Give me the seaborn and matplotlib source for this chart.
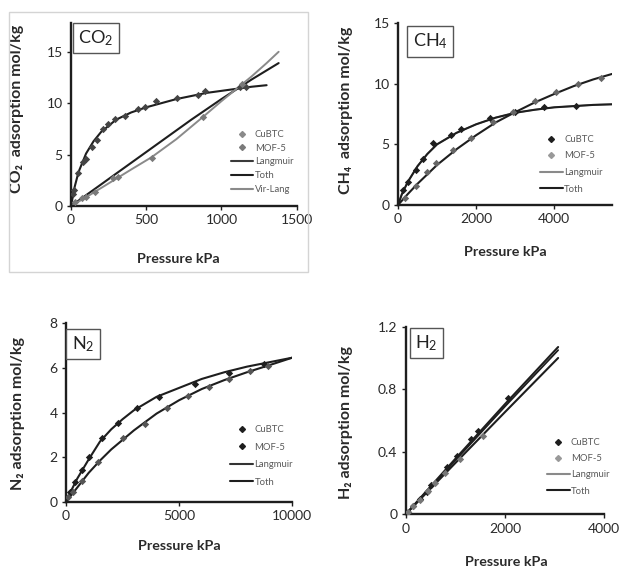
import numpy as np
import pandas as pd
import seaborn as sns
import matplotlib
matplotlib.use("Agg")
import matplotlib.pyplot as plt
from matplotlib.lines import Line2D
from matplotlib.patches import Rectangle

# %%
# Dados (pressão kPa, adsorção mol/kg)

# CO2
co2_cubtc_p = [10, 20, 49, 78, 100, 137, 170, 215, 248, 292, 359, 448, 492, 565, 702, 847, 891, 1123, 1160]
co2_cubtc_q = [1.2, 1.6, 3.2, 4.3, 4.6, 5.7, 6.4, 7.5, 8.0, 8.5, 8.8, 9.4, 9.6, 10.2, 10.5, 10.8, 11.2, 11.6, 11.6]
co2_mof5_p = [27, 71, 100, 160, 281, 315, 536, 880, 1135]
co2_mof5_q = [0.4, 0.74, 0.9, 1.4, 2.7, 2.85, 4.7, 8.7, 11.9]
co2_lang_p = [0, 25, 50, 100, 150, 200, 300, 400, 500, 600, 700, 800, 900, 1000, 1100, 1200, 1300]
co2_lang_q = [0, 1.9, 3.3, 5.1, 6.3, 7.2, 8.4, 9.1, 9.6, 10.0, 10.4, 10.7, 11.0, 11.2, 11.4, 11.6, 11.75]
co2_toth_p = [0, 200, 400, 600, 800, 1000, 1200, 1380]
co2_toth_q = [0, 2.1, 4.2, 6.3, 8.4, 10.4, 12.3, 13.9]
co2_vir_p = [0, 100, 200, 300, 400, 536, 700, 880, 1000, 1100, 1200, 1300, 1380]
co2_vir_q = [0, 0.85, 1.75, 2.65, 3.55, 4.75, 6.5, 8.7, 10.2, 11.4, 12.6, 13.9, 15.0]

# CH4
ch4_cubtc_p = [128, 256, 450, 650, 898, 1368, 1625, 2351, 2993, 3736, 4557]
ch4_cubtc_q = [1.2, 1.9, 2.9, 3.8, 5.15, 5.8, 6.3, 7.2, 7.7, 8.05, 8.2]
ch4_mof5_p = [171, 470, 750, 983, 1400, 1881, 2437, 2950, 3505, 4036, 4600, 5190]
ch4_mof5_q = [0.6, 1.6, 2.7, 3.5, 4.5, 5.5, 6.8, 7.7, 8.6, 9.3, 9.95, 10.45]
ch4_fit_cubtc_p = [0, 100, 250, 500, 750, 1000, 1500, 2000, 2500, 3000, 3500, 4000, 4500, 5000, 5480]
ch4_fit_cubtc_q = [0, 0.9, 1.9, 3.2, 4.2, 5.0, 5.95, 6.65, 7.2, 7.6, 7.85, 8.05, 8.15, 8.25, 8.3]
ch4_fit_mof5_p = [0, 250, 500, 1000, 1500, 2000, 2500, 3000, 3500, 4000, 4500, 5000, 5480]
ch4_fit_mof5_q = [0, 0.9, 1.75, 3.3, 4.6, 5.75, 6.8, 7.65, 8.45, 9.15, 9.8, 10.35, 10.8]

# N2
n2_cubtc_p = [177, 400, 692, 1030, 1575, 2311, 3121, 4107, 5697, 7198, 8758]
n2_cubtc_q = [0.44, 0.9, 1.44, 2.0, 2.84, 3.51, 4.22, 4.7, 5.29, 5.78, 6.15]
n2_mof5_p = [103, 324, 700, 1428, 2532, 3489, 4445, 5402, 6315, 7198, 8125, 8935]
n2_mof5_q = [0.22, 0.44, 0.95, 1.78, 2.85, 3.5, 4.22, 4.74, 5.14, 5.48, 5.85, 6.07]
n2_fit_cubtc_p = [0, 250, 500, 1000, 1500, 2000, 2500, 3000, 4000, 5000, 6000, 7000, 8000, 9000, 10000]
n2_fit_cubtc_q = [0, 0.55, 1.05, 1.9, 2.7, 3.25, 3.7, 4.1, 4.7, 5.1, 5.5, 5.8, 6.05, 6.25, 6.45]
n2_fit_mof5_p = [0, 500, 1000, 1500, 2000, 3000, 4000, 5000, 6000, 7000, 8000, 9000, 10000]
n2_fit_mof5_q = [0, 0.65, 1.3, 1.85, 2.35, 3.2, 3.95, 4.55, 5.05, 5.45, 5.8, 6.12, 6.45]

# H2
h2_cubtc_p = [40, 150, 288, 423, 510, 825, 1027, 1315, 1450, 2053]
h2_cubtc_q = [0.012, 0.05, 0.1, 0.145, 0.19, 0.305, 0.373, 0.48, 0.535, 0.742]
h2_mof5_p = [40, 150, 288, 450, 600, 792, 1094, 1563]
h2_mof5_q = [0.013, 0.05, 0.092, 0.15, 0.2, 0.262, 0.354, 0.501]
h2_toth_cubtc_p = [0, 1000, 2000, 3070]
h2_toth_cubtc_q = [0, 0.355, 0.705, 1.07]
h2_lang_cubtc_p = [0, 1000, 2000, 3070]
h2_lang_cubtc_q = [0, 0.345, 0.69, 1.05]
h2_fit_mof5_p = [0, 1000, 2000, 3070]
h2_fit_mof5_q = [0, 0.328, 0.654, 1.0]

# %%
sns.set_theme(style="white")
plt.rcParams['font.family'] = ['Lato', 'DejaVu Sans']
plt.rcParams['mathtext.fontset'] = 'custom'
plt.rcParams['mathtext.rm'] = 'Lato'
plt.rcParams['mathtext.default'] = 'regular'

fig = plt.figure(figsize=(6.21, 5.69), dpi=100)
W, H = 621, 569


def eixo(esq, dir_, base, topo):
    # posição em pixels -> fração da figura
    return fig.add_axes([esq / W, 1 - base / H, (dir_ - esq) / W, (base - topo) / H])


ax_co2 = eixo(71, 296.7, 206, 23)
ax_ch4 = eixo(398, 612, 205, 23)
ax_n2 = eixo(66, 292.3, 502, 323)
ax_h2 = eixo(405.7, 604.3, 514.3, 326.7)

preto = '#1e1e1e'
cinza = '#8a8a8a'
texto_leg = '#5a5a5a'


def pontos(ax, p, q, cor):
    sns.scatterplot(x=p, y=q, ax=ax, color=cor, s=14, marker='D', linewidth=0, zorder=3)


def linha(ax, p, q, cor, lw=1.5):
    sns.lineplot(x=p, y=q, ax=ax, color=cor, lw=lw, sort=False, estimator=None, zorder=2)


# CO2
linha(ax_co2, co2_lang_p, co2_lang_q, preto)
linha(ax_co2, co2_toth_p, co2_toth_q, preto)
linha(ax_co2, co2_vir_p, co2_vir_q, cinza, 1.4)
pontos(ax_co2, co2_cubtc_p, co2_cubtc_q, '#444444')
pontos(ax_co2, co2_mof5_p, co2_mof5_q, '#7a7a7a')

# CH4
linha(ax_ch4, ch4_fit_cubtc_p, ch4_fit_cubtc_q, cinza, 1.2)
linha(ax_ch4, ch4_fit_cubtc_p, ch4_fit_cubtc_q, preto)
linha(ax_ch4, ch4_fit_mof5_p, ch4_fit_mof5_q, preto)
pontos(ax_ch4, ch4_cubtc_p, ch4_cubtc_q, preto)
pontos(ax_ch4, ch4_mof5_p, ch4_mof5_q, '#666666')

# N2
linha(ax_n2, n2_fit_cubtc_p, n2_fit_cubtc_q, preto)
linha(ax_n2, n2_fit_mof5_p, n2_fit_mof5_q, preto)
pontos(ax_n2, n2_cubtc_p, n2_cubtc_q, preto)
pontos(ax_n2, n2_mof5_p, n2_mof5_q, '#555555')

# H2
linha(ax_h2, h2_lang_cubtc_p, h2_lang_cubtc_q, preto, 1.3)
linha(ax_h2, h2_toth_cubtc_p, h2_toth_cubtc_q, preto)
linha(ax_h2, h2_fit_mof5_p, h2_fit_mof5_q, preto)
pontos(ax_h2, h2_cubtc_p, h2_cubtc_q, preto)
pontos(ax_h2, h2_mof5_p, h2_mof5_q, '#777777')

# %%
# Eixos, rótulos e caixas
config = [
    (ax_co2, (0, 1500), [0, 500, 1000, 1500], (0, 17.8), [0, 5, 10, 15], ['0', '5', '10', '15'],
     'CO₂  adsorption mol/kg', 'CO$_2$', (0.109, 0.918), (-0.21, 0.53), (0.476, -0.255)),
    (ax_ch4, (0, 5480), [0, 2000, 4000], (0, 15), [0, 5, 10, 15], ['0', '5', '10', '15'],
     'CH₄  adsorption mol/kg', 'CH$_4$', (0.15, 0.898), (-0.21, 0.52), (0.5, -0.225)),
    (ax_n2, (0, 10000), [0, 5000, 10000], (0, 8), [0, 2, 4, 6, 8], ['0', '2', '4', '6', '8'],
     'N₂ adsorption mol/kg', 'N$_2$', (0.075, 0.883), (-0.18, 0.497), (0.5, -0.21)),
    (ax_h2, (0, 4000), [0, 2000, 4000], (0, 1.2), [0, 0.4, 0.8, 1.2], ['0', '0.4', '0.8', '1.2'],
     'H₂ adsorption mol/kg', 'H$_2$', (0.105, 0.913), (-0.265, 0.487), (0.505, -0.222)),
]

for ax, xl, xt, yl, yt, ytl, ylab, gas, pos_gas, pos_y, pos_x in config:
    ax.set_xlim(*xl)
    ax.set_ylim(*yl)
    ax.set_xticks(xt)
    ax.set_xticklabels([str(v) for v in xt])
    ax.set_yticks(yt)
    ax.set_yticklabels(ytl)
    for s in ['top', 'right']:
        ax.spines[s].set_visible(False)
    for s in ['left', 'bottom']:
        ax.spines[s].set_color(preto)
        ax.spines[s].set_linewidth(1.7)
    ax.tick_params(direction='out', length=3, width=1, color=preto, labelsize=10,
                   labelcolor='#2a2a2a', pad=3, left=True, bottom=True)
    ax.set_ylabel(ylab, fontsize=11.5, fontweight='bold', color='#2a2a2a')
    ax.yaxis.set_label_coords(*pos_y)
    ax.set_xlabel('Pressure kPa', fontsize=10.3, fontweight='bold', color='#2a2a2a')
    ax.xaxis.set_label_coords(*pos_x)
    ax.text(pos_gas[0], pos_gas[1], gas, transform=ax.transAxes, ha='center', va='center',
            fontsize=13, color='#222222',
            bbox=dict(boxstyle='square,pad=0.3', fc='white', ec='#555555', lw=1))

# %%
# Legendas
def legenda(ax, itens, pos, espaco, tam=6.8):
    handles = []
    for nome, tipo, cor in itens:
        if tipo == 'ponto':
            handles.append(Line2D([], [], ls='none', marker='D', ms=3, color=cor, label=nome))
        else:
            handles.append(Line2D([], [], color=cor, lw=1.5, label=nome))
    leg = ax.legend(handles=handles, loc='upper left', bbox_to_anchor=pos, frameon=False,
                    fontsize=tam, handlelength=2.4, handletextpad=0.15, labelspacing=espaco,
                    borderpad=0, borderaxespad=0)
    for t in leg.get_texts():
        t.set_color(texto_leg)
    return leg


legenda(ax_co2, [('CuBTC', 'ponto', '#8a8a8a'), ('MOF-5', 'ponto', '#7a7a7a'),
                 ('Langmuir', 'linha', '#3a3a3a'), ('Toth', 'linha', preto),
                 ('Vir-Lang', 'linha', cinza)], (0.707, 0.415), 0.5)
legenda(ax_ch4, [('CuBTC', 'ponto', preto), ('MOF-5', 'ponto', '#999999'),
                 ('Langmuir', 'linha', cinza), ('Toth', 'linha', preto)], (0.664, 0.385), 0.8)
legenda(ax_n2, [('CuBTC', 'ponto', preto), ('MOF-5', 'ponto', preto),
                ('Langmuir', 'linha', '#333333'), ('Toth', 'linha', preto)], (0.726, 0.43), 0.9)
legenda(ax_h2, [('CuBTC', 'ponto', preto), ('MOF-5', 'ponto', '#999999'),
                ('Langmuir', 'linha', cinza), ('Toth', 'linha', preto)], (0.711, 0.405), 0.75)

# Moldura clara em volta do painel do CO2
fig.patches.append(Rectangle((9 / W, 1 - 272 / H), 299 / W, 260 / H, transform=fig.transFigure,
                             fill=False, ec='#d4d4d4', lw=1))

fig.savefig('out.png', dpi=100)
